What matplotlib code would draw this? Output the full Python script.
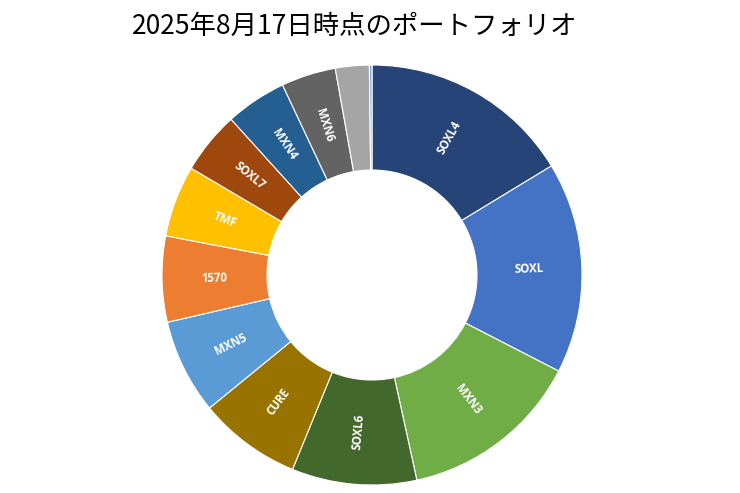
import numpy as np
import matplotlib
matplotlib.use("Agg")
import matplotlib.pyplot as plt

plt.rcParams['font.family'] = ['Noto Sans CJK JP', 'DejaVu Sans']

# portfolio share (%), clockwise from 12 o'clock
labels = ["SOXL4", "SOXL", "MXN3", "SOXL6", "CURE", "MXN5", "1570",
          "TMF", "SOXL7", "MXN4", "MXN6", "", ""]
shares = [16.3, 16.25, 14.0, 9.6, 7.9, 7.3, 6.6, 5.5, 4.8, 4.7, 4.2, 2.6, 0.2]
colors = ["#264478", "#4472C4", "#70AD47", "#43682B", "#997300", "#5B9BD5",
          "#ED7D31", "#FFC000", "#9E480E", "#255E91", "#636363", "#A5A5A5",
          "#7CAFDD"]
title = "2025年8月17日時点のポートフォリオ"

fig = plt.figure(figsize=(7.4, 4.93), dpi=100)
# center ~ (372, 275) px, outer radius ~210 px
R = 210
ax = fig.add_axes([(372 - R) / 740, 1 - (275 + R) / 493, 2 * R / 740, 2 * R / 493])

wedges, _ = ax.pie(shares, colors=colors, startangle=90, counterclock=False,
                   radius=1.0, wedgeprops=dict(width=0.5, edgecolor="white", linewidth=0.8))
ax.set_xlim(-1, 1)
ax.set_ylim(-1, 1)
ax.set_aspect("equal")

# radial labels in the middle of the ring
for w, lab in zip(wedges, labels):
    if not lab:
        continue
    ang = (w.theta1 + w.theta2) / 2
    x = 0.75 * np.cos(np.radians(ang))
    y = 0.75 * np.sin(np.radians(ang))
    rot = ang
    if rot > 90:
        rot -= 180
    elif rot < -90:
        rot += 180
    ax.text(x, y, lab, ha="center", va="center", rotation=rot,
            rotation_mode="anchor", color="white", fontsize=8.3,
            fontweight="bold", family=["Open Sans", "DejaVu Sans"])

fig.text(355 / 740, 1 - 26 / 493, title, ha="center", va="center", fontsize=19)

fig.savefig("out.png", dpi=100)
